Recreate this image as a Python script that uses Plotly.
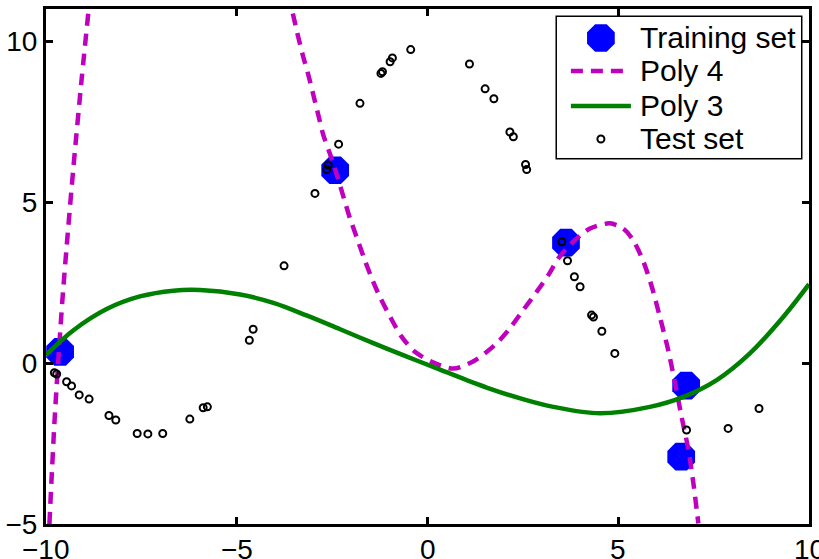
import plotly.graph_objects as go

# Training samples
train_x = [-9.63, -2.42, 3.63, 6.78, 6.65]
train_y = [0.35, 5.99, 3.74, -0.70, -2.91]

# Test samples
test_x = [-9.78, -9.72, -9.46, -9.33, -9.13, -8.87, -8.35, -8.17, -7.61, -7.33,
          -6.94, -6.23, -5.88, -5.77, -4.67, -4.57, -3.76, -2.95, -2.64, -2.60,
          -2.33, -1.77, -1.22, -1.18, -0.98, -0.92, -0.44, 1.10, 1.51, 1.74,
          2.16, 2.25, 2.57, 2.60, 3.52, 3.67, 3.85, 4.00, 4.30, 4.35,
          4.57, 4.91, 6.79, 7.88, 8.69]
test_y = [-0.30, -0.34, -0.58, -0.71, -0.99, -1.12, -1.63, -1.77, -2.19, -2.20,
          -2.19, -1.74, -1.39, -1.36, 0.71, 1.05, 3.02, 5.27, 6.01, 6.15,
          6.80, 8.07, 9.00, 9.05, 9.36, 9.48, 9.74, 9.29, 8.52, 8.21,
          7.18, 7.03, 6.17, 6.01, 3.77, 3.18, 2.68, 2.37, 1.49, 1.43,
          0.99, 0.30, -2.08, -2.03, -1.41]

# Degree-4 fit, sampled (two visible pieces; it leaves the axes between them)
poly4_x = [-9.91, -9.86, -9.77, -9.66, -9.57, -9.43, -9.28, -9.06, -8.88, None,
           -3.53, -3.41, -3.27, -3.12, -2.99, -2.86, -2.73, -2.56, -2.36, -2.19,
           -2.03, -1.86, -1.66, -1.46, -1.25, -0.98, -0.68, -0.33, 0.11, 0.68,
           1.25, 1.81, 2.16, 2.51, 2.86, 3.17, 3.43, 3.82, 4.26, 4.78,
           5.13, 5.39, 5.66, 5.88, 6.09, 6.31, 6.49, 6.66, 6.84, 6.97, 7.10]
poly4_y = [-5.00, -3.74, -1.67, 0.40, 1.96, 4.03, 6.10, 8.89, 11.00, None,
           10.86, 10.24, 9.57, 8.94, 8.32, 7.70, 7.08, 6.51, 5.79, 5.11,
           4.49, 3.92, 3.25, 2.63, 2.06, 1.44, 0.82, 0.35, 0.04, -0.17,
           0.09, 0.61, 1.08, 1.65, 2.21, 2.74, 3.25, 3.77, 4.18, 4.34,
           4.18, 3.82, 3.15, 2.37, 1.44, 0.40, -0.63, -1.67, -2.70, -3.74, -4.98]

# Degree-3 fit, sampled
poly3_x = [-10.0, -9.28, -8.41, -7.54, -6.66, -5.96, -4.91, -4.04, -3.17, -2.29,
           -1.42, -0.54, 0.28, 1.55, 2.50, 3.30, 4.52, 5.83, 6.71, 7.58, 8.45, 9.33, 10.0]
poly3_y = [0.25, 1.02, 1.68, 2.07, 2.25, 2.27, 2.13, 1.87, 1.48, 1.05,
           0.62, 0.20, -0.18, -0.76, -1.12, -1.36, -1.56, -1.36, -1.05, -0.53, 0.30, 1.44, 2.45]

x_ticks = [-10, -5, 0, 5, 10]
y_ticks = [-5, 0, 5, 10]

legend_names = ["Training set", "Poly 4", "Poly 3", "Test set"]

MAGENTA = "#BF00BF"
GREEN = "#008000"
BLUE = "#0000FF"
FONT = "Liberation Sans, Arial, Helvetica, sans-serif"


def tick_text(v):
    return str(v).replace("-", "\u2212")


fig = go.Figure()

fig.add_trace(go.Scatter(
    x=train_x, y=train_y, mode="markers", showlegend=False,
    marker=dict(symbol="octagon", size=30, color=BLUE, line=dict(width=0)),
))
fig.add_trace(go.Scatter(
    x=poly4_x, y=poly4_y, mode="lines", showlegend=False, connectgaps=False,
    line=dict(color=MAGENTA, width=4.5, dash="12px,8px", shape="spline", smoothing=0.8),
))
fig.add_trace(go.Scatter(
    x=poly3_x, y=poly3_y, mode="lines", showlegend=False,
    line=dict(color=GREEN, width=4.5, shape="spline", smoothing=1.0),
))
fig.add_trace(go.Scatter(
    x=test_x, y=test_y, mode="markers", showlegend=False,
    marker=dict(symbol="circle-open", size=7, color="black", line=dict(width=2, color="black")),
))

# Hand-built legend in its own small subplot
rows = [0.851, 0.617, 0.369, 0.135]
sym_x = 0.180
seg = [0.057, 0.303]
text_x = 0.332

fig.add_trace(go.Scatter(
    x=[sym_x], y=[rows[0]], xaxis="x2", yaxis="y2", mode="markers", showlegend=False,
    cliponaxis=False, marker=dict(symbol="octagon", size=30, color=BLUE, line=dict(width=0)),
))
fig.add_trace(go.Scatter(
    x=seg, y=[rows[1], rows[1]], xaxis="x2", yaxis="y2", mode="lines", showlegend=False,
    cliponaxis=False, line=dict(color=MAGENTA, width=4.5, dash="12px,8px"),
))
fig.add_trace(go.Scatter(
    x=seg, y=[rows[2], rows[2]], xaxis="x2", yaxis="y2", mode="lines", showlegend=False,
    cliponaxis=False, line=dict(color=GREEN, width=4.5),
))
fig.add_trace(go.Scatter(
    x=[sym_x], y=[rows[3]], xaxis="x2", yaxis="y2", mode="markers", showlegend=False,
    cliponaxis=False,
    marker=dict(symbol="circle-open", size=7, color="black", line=dict(width=2, color="black")),
))

annotations = [
    dict(x=text_x, y=r, xref="x2", yref="y2", text=name, showarrow=False,
         xanchor="left", yanchor="middle", font=dict(family=FONT, size=30, color="black"))
    for name, r in zip(legend_names, rows)
]

# x tick labels placed just under the bottom axis line
annotations += [
    dict(x=v, y=0, xref="x", yref="paper", text=tick_text(v), showarrow=False,
         xanchor="center", yanchor="top", yshift=-8,
         font=dict(family=FONT, size=28, color="black"))
    for v in x_ticks
]

leg_dom_x = [0.6697, 0.9895]
leg_dom_y = [0.7107, 0.9845]

axis_common = dict(
    showline=True, linecolor="black", linewidth=3, mirror="ticks",
    ticks="inside", ticklen=7, tickwidth=2.5, tickcolor="black",
    showgrid=False, zeroline=False, automargin=False,
    tickfont=dict(family=FONT, size=28, color="black"),
)

fig.update_layout(
    width=819, height=559,
    margin=dict(l=46, r=10, t=9, b=35),
    paper_bgcolor="white", plot_bgcolor="white",
    xaxis=dict(range=[-10, 10], tickvals=x_ticks, showticklabels=False, **axis_common),
    yaxis=dict(range=[-5, 11], tickvals=y_ticks, **axis_common),
    xaxis2=dict(domain=leg_dom_x, anchor="y2", range=[0, 1], visible=False),
    yaxis2=dict(domain=leg_dom_y, anchor="x2", range=[0, 1], visible=False),
    shapes=[dict(type="rect", xref="paper", yref="paper",
                 x0=leg_dom_x[0], x1=leg_dom_x[1], y0=leg_dom_y[0], y1=leg_dom_y[1],
                 line=dict(color="black", width=3), fillcolor="white", layer="below")],
    annotations=annotations,
    font=dict(family=FONT, color="black"),
)

fig.write_html("out.html")
